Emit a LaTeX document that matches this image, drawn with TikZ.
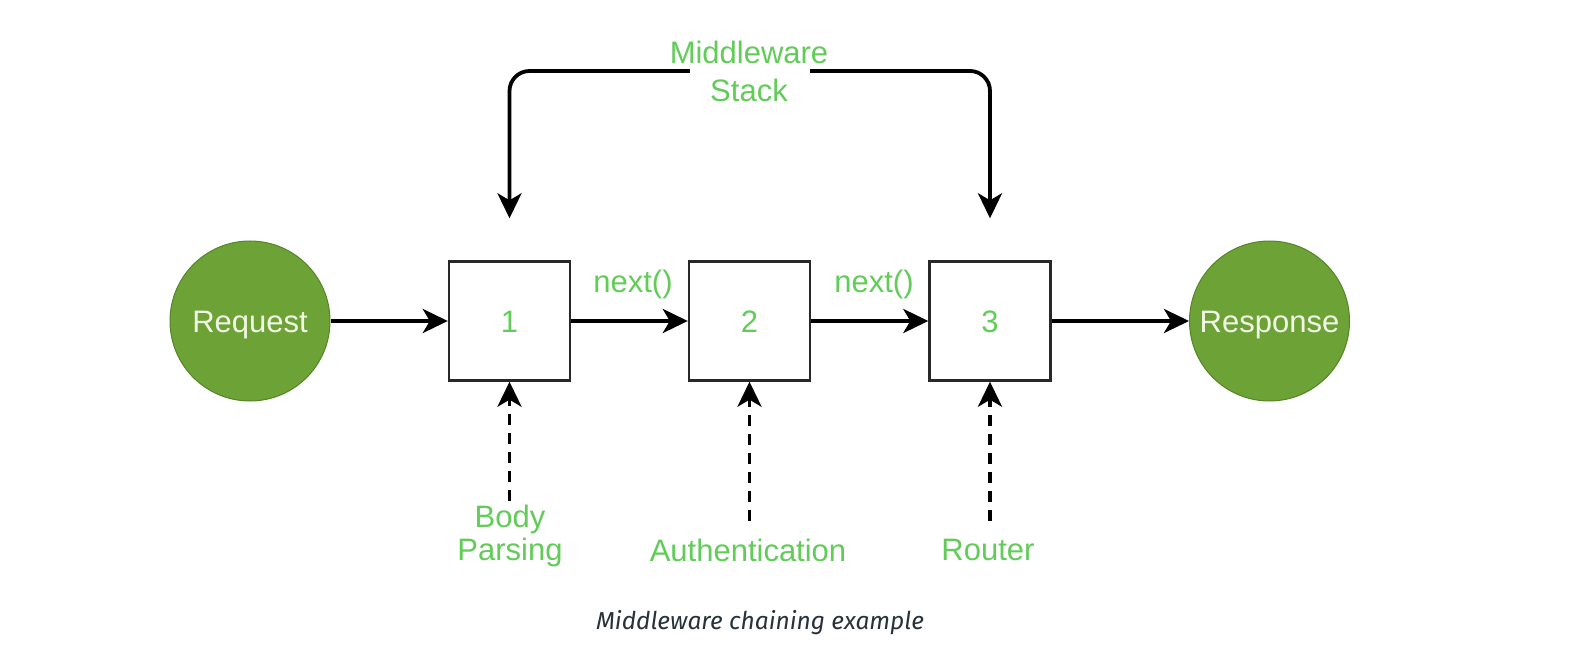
\documentclass[tikz,border=0pt]{standalone}
\usepackage{fontspec}
\setmainfont{Liberation Sans}
\newfontfamily\capfont{Fira Sans}
\usetikzlibrary{arrows.meta}
\definecolor{lblgreen}{RGB}{98,204,88}
\definecolor{circfill}{RGB}{108,162,54}
\definecolor{circline}{RGB}{86,132,40}
\definecolor{circtext}{RGB}{242,248,230}
\definecolor{captxt}{RGB}{39,50,57}
\definecolor{boxline}{RGB}{40,40,40}
\begin{document}
\begin{tikzpicture}[x=1pt,y=-1pt,
  every node/.style={font=\fontsize{31}{38}\selectfont},
  lbl/.style={text=lblgreen, inner sep=0pt, align=center},
  circ/.style={circle, fill=circfill, draw=circline, line width=1pt,
    minimum size=160pt, inner sep=0pt, text=circtext, text height=22pt, text depth=0pt},
  mbox/.style={draw=boxline, line width=2.4pt, fill=white, minimum width=121pt,
    minimum height=119pt, inner sep=0pt, text=lblgreen, text height=22pt, text depth=0pt},
  arr/.style={line width=3.8pt, -{Stealth[length=25pt,width=24pt,inset=7pt]}},
  darr/.style={arr, dash pattern=on 11pt off 8pt}]
\useasboundingbox (0,0) rectangle (1586,668);
\fill[white] (0,0) rectangle (1586,668);

% main chain
\node[circ] (req) at (250,321) {Request};
\node[mbox] (b1) at (509.5,321) {1};
\node[mbox] (b2) at (749.5,321) {2};
\node[mbox] (b3) at (990,321) {3};
\node[circ] (res) at (1269.5,321) {Response};

\draw[arr] (req) -- (b1);
\draw[arr] (b1) -- (b2);
\draw[arr] (b2) -- (b3);
\draw[arr] (b3) -- (res);

\node[lbl, anchor=base] (n1) at (633,292) {next()};
\node[lbl, anchor=base] (n2) at (874,292) {next()};

% middleware stack bracket
\coordinate (top) at (750,71);
\path (b1.north) ++(0,-42) coordinate (t1);
\path (b3.north) ++(0,-42) coordinate (t3);
\draw[arr, rounded corners=20pt] (top) -| (t1);
\draw[arr, rounded corners=20pt] (top) -| (t3);
\node[fill=white, minimum width=120pt, minimum height=9pt, inner sep=0pt] (gap) at (750,71) {};
\node[lbl, anchor=north] (stack) at (749,41) {Middleware\\Stack};

% dashed inputs
\path (b1.south) ++(0,119) coordinate (d1);
\path (b2.south) ++(0,139) coordinate (d2);
\path (b3.south) ++(0,139) coordinate (d3);
\draw[darr] (d1) -- (b1.south);
\draw[darr] (d2) -- (b2.south);
\draw[darr] (d3) -- (b3.south);

\node[lbl, anchor=north, font=\fontsize{31}{33}\selectfont] (body) at (510,504.5) {Body\\Parsing};
\node[lbl, anchor=base] (auth) at (748,561) {Authentication};
\node[lbl, anchor=base] (router) at (988,560) {Router};

% caption
\node[anchor=base, inner sep=0pt, text=captxt, font=\capfont\itshape\fontsize{24.5}{28}\selectfont] (cap) at (760,629) {Middleware chaining example};
\end{tikzpicture}
\end{document}
